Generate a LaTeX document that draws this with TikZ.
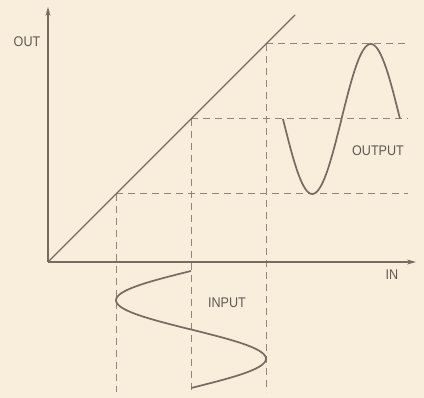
\documentclass[tikz,border=0pt]{standalone}
\usepackage{fontspec}
\setmainfont[FakeStretch=0.9]{Liberation Sans}
\usetikzlibrary{arrows.meta}
\definecolor{bg}{RGB}{249,238,219}
\definecolor{ink}{RGB}{118,106,98}
\definecolor{dashink}{RGB}{145,133,123}
\definecolor{txt}{RGB}{95,88,84}
\tikzset{
  axis/.style={draw=ink, line width=1.1pt, -{Stealth[length=9pt,width=5pt]}},
  ramp/.style={draw=ink, line width=1.3pt},
  guide/.style={draw=dashink, line width=1pt, dash pattern=on 7pt off 5pt},
  wave/.style={draw=ink, line width=1.7pt},
  lbl/.style={text=txt, font=\fontsize{14}{14}\selectfont, inner sep=0pt}
}
\begin{document}
\begin{tikzpicture}[x=1pt,y=-1pt]
\fill[bg] (0,0) rectangle (424,398);
\useasboundingbox (0,0) rectangle (424,398);
% coordinates
\coordinate (O) at (48,262);
\coordinate (ytop) at (48,7);
\coordinate (xend) at (416,262);
\coordinate (rend) at (295,15);
\coordinate (p1) at (116,194);
\coordinate (p2) at (191,119);
\coordinate (p3) at (266,44);
\coordinate (p1b) at (116,392);
\coordinate (p2b) at (191,392);
\coordinate (p3b) at (266,392);
\coordinate (p1r) at (408,194);
\coordinate (p2r) at (408,119);
\coordinate (p3r) at (408,44);
% guides
\draw[guide] (p1) -- (p1b);
\draw[guide] (p2) -- (p2b);
\draw[guide] (p3) -- (p3b);
\draw[guide] (p1) -- (p1r);
\draw[guide] (p2) -- (p2r);
\draw[guide] (p3) -- (p3r);
% axes
\draw[axis] (O) -- (ytop);
\draw[axis] (O) -- (xend);
\draw[ramp] (O) -- (rend);
% waves
\draw[wave] plot[domain=0:1, samples=80, smooth] ({283+117*\x},{119+75*sin(360*\x)});
\draw[wave] plot[domain=0:1, samples=80, smooth] ({191-75*sin(360*\x)},{271+117*\x});
% labels
\node[lbl] (out) at (27,42) {OUT};
\node[lbl] (in) at (392,275) {IN};
\node[lbl] (output) at (378,151) {OUTPUT};
\node[lbl] (input) at (227,303) {INPUT};
\end{tikzpicture}
\end{document}
